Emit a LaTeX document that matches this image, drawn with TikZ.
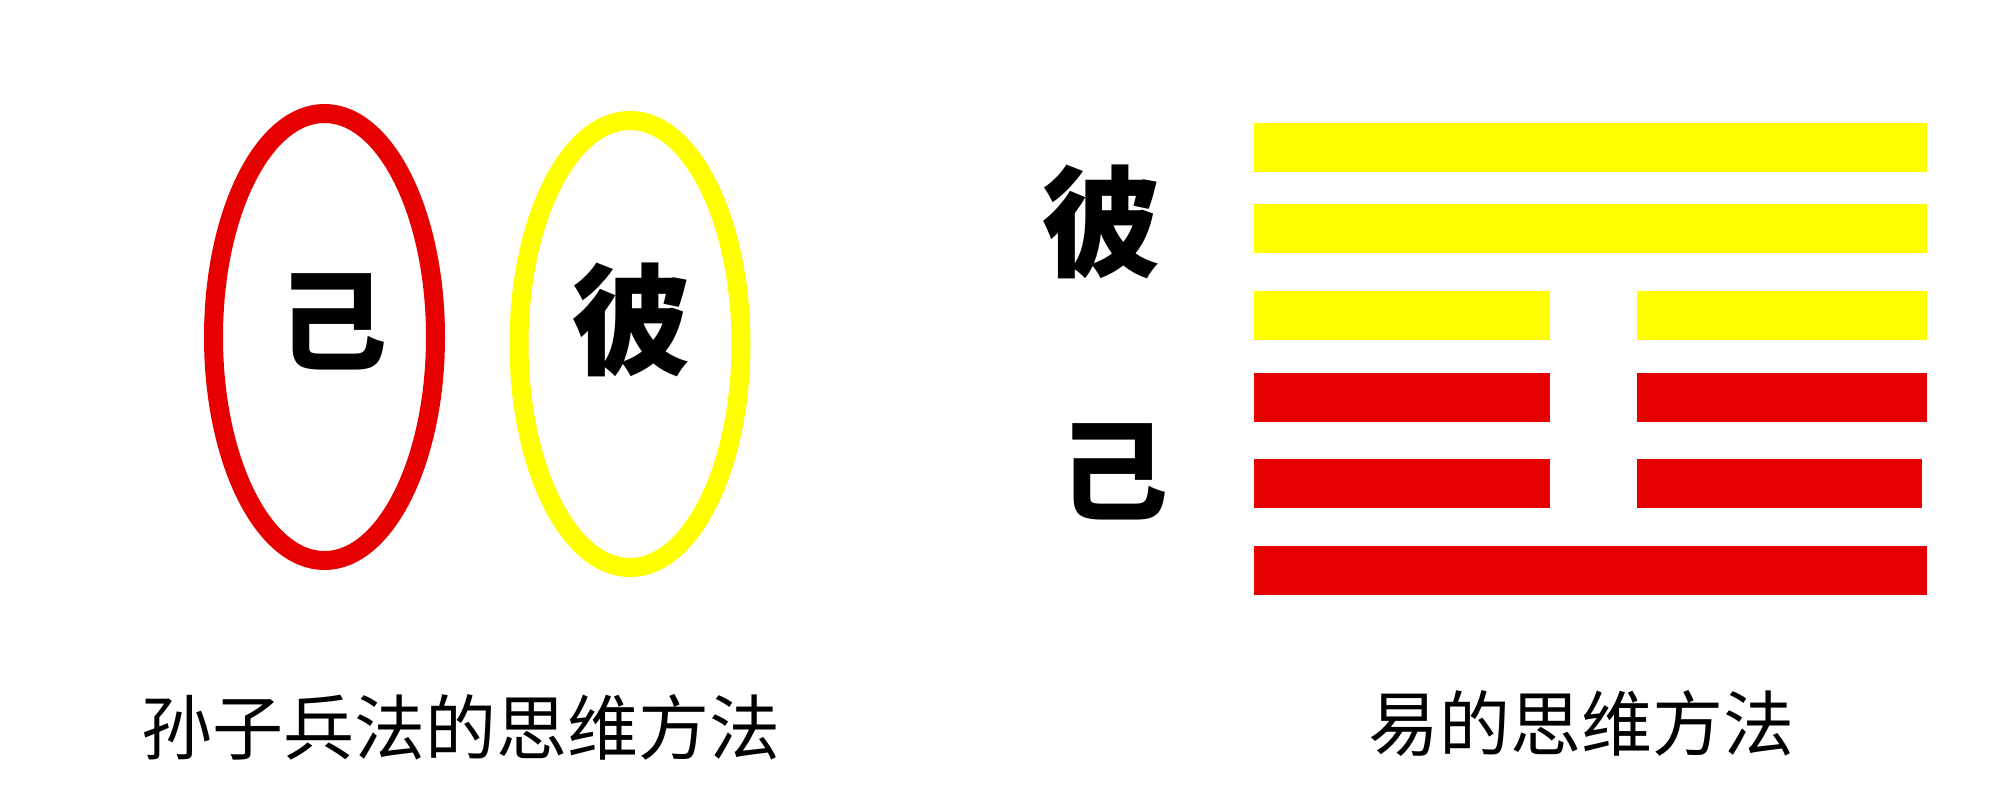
\documentclass[tikz,border=0pt]{standalone}
\usepackage{fontspec}
\newfontfamily\cjk{Noto Sans CJK SC}
\usetikzlibrary{shapes.geometric}
\definecolor{hongse}{RGB}{230,0,0}
\definecolor{huangse}{RGB}{255,255,0}
\tikzstyle{ring} = [ellipse, minimum width = 222pt, minimum height = 447pt,
	line width = 19pt, inner sep = 0pt]
\tikzstyle{zi} = [inner sep = 0pt, font = \cjk\bfseries\fontsize{120}{130}\selectfont]
\tikzstyle{jizi} = [inner sep = 0pt, font = \cjk\bfseries\fontsize{110}{120}\selectfont]
\tikzstyle{caption} = [inner sep = 0pt, font = \cjk\fontsize{71}{80}\selectfont]
\tikzstyle{yang} = [inner sep = 0pt, minimum height = 49pt, minimum width = 673pt]
\tikzstyle{yin} = [inner sep = 0pt, minimum height = 49pt, minimum width = 296pt]

\begin{document}
\begin{tikzpicture}[x = 1pt, y = -1pt]
\useasboundingbox [fill = white] (0,0) rectangle (2000,809);

% Sunzi: two separate rings
\node (jiring) [ring, draw = hongse] at (324.5,337) {};
\node (biring) [ring, draw = huangse] at (630,344) {};
\node (ji) [jizi] at (332,322) {己};
\node (bi) [zi] at (631,320) {彼};

\node (sunzi) [caption] at (461,727) {孙子兵法的思维方法};

% Yi: six lines, upper three yellow, lower three red
\node (yao6) [yang, fill = huangse, anchor = north west] at (1254,123) {};
\node (yao5) [yang, fill = huangse, anchor = north west] at (1254,204) {};
\node (yao4l) [yin, fill = huangse, anchor = north west] at (1254,291) {};
\node (yao4r) [yin, fill = huangse, anchor = north east, minimum width = 290pt] at (1927,291) {};
\node (yao3l) [yin, fill = hongse, anchor = north west] at (1254,373) {};
\node (yao3r) [yin, fill = hongse, anchor = north east, minimum width = 290pt] at (1927,373) {};
\node (yao2l) [yin, fill = hongse, anchor = north west] at (1254,459) {};
\node (yao2r) [yin, fill = hongse, anchor = north east, minimum width = 285pt] at (1922,459) {};
\node (yao1) [yang, fill = hongse, anchor = north west] at (1254,546) {};

\node (bi2) [zi] at (1101,222) {彼};
\node (ji2) [jizi] at (1113,472) {己};

\node (yijing) [caption] at (1581,723) {易的思维方法};
\end{tikzpicture}
\end{document}
